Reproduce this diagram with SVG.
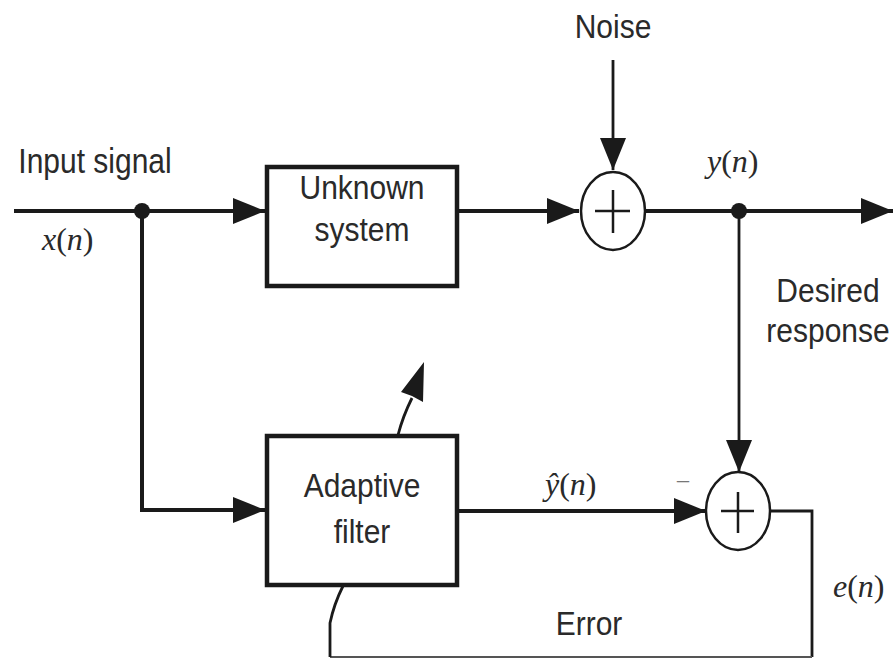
<svg xmlns="http://www.w3.org/2000/svg" width="895" height="659" viewBox="0 0 895 659">
<defs>
<marker id="ah" markerUnits="userSpaceOnUse" markerWidth="34" markerHeight="26" refX="32" refY="13" orient="auto">
<path d="M0,0 L32,13 L0,26 Z" fill="#1a1a1a"/>
</marker>
<style>
.lbl{font-family:"Liberation Sans",Arial,sans-serif;font-size:30px;fill:#2a2a2a;text-anchor:middle}
.math{font-family:"Liberation Serif","Times New Roman",serif;font-size:32px;fill:#2a2a2a}
.it{font-style:italic}
.box{fill:#fff;stroke:#1a1a1a;stroke-width:4.5}
.sum{fill:#fff;stroke:#1a1a1a;stroke-width:2.5}
.plus{stroke:#1a1a1a;stroke-width:2.5;fill:none}
.w{fill:none;stroke:#1a1a1a;stroke-width:4}
.t{fill:none;stroke:#1a1a1a;stroke-width:2.8}
</style>
</defs>
<rect width="895" height="659" fill="#fff"/>

<g id="connectors">
<line class="w" x1="14" y1="211" x2="265" y2="211" marker-end="url(#ah)"/>
<polyline class="w" points="142,211 142,510 265,510" marker-end="url(#ah)"/>
<line class="w" x1="457" y1="211" x2="579" y2="211" marker-end="url(#ah)"/>
<line class="t" x1="613" y1="60" x2="613" y2="170" marker-end="url(#ah)"/>
<line class="w" x1="645" y1="211" x2="893" y2="211" marker-end="url(#ah)"/>
<line class="t" x1="739" y1="211" x2="739" y2="472" marker-end="url(#ah)"/>
<line class="w" x1="457" y1="511" x2="706" y2="511" marker-end="url(#ah)"/>
<polyline class="t" points="770,511 812,511 812,657"/>
<line x1="812" y1="657" x2="330" y2="657" stroke="#555" stroke-width="2"/>
<path class="t" d="M330,657 L330,623 Q334,604 343,586"/>
<path class="t" d="M398,435 Q403,416 412,398"/>
<path d="M424,362 L423,402 L412,396 L401,392 Z" fill="#1a1a1a"/>
<circle cx="142" cy="211" r="8" fill="#1a1a1a"/>
<circle cx="739" cy="211" r="8" fill="#1a1a1a"/>
</g>

<g id="unknown-system">
<rect class="box" x="267" y="167" width="190" height="119"/>
<text class="lbl" transform="translate(362,199) scale(1,1.12)">Unknown</text>
<text class="lbl" transform="translate(362,241) scale(1,1.12)">system</text>
</g>

<g id="adaptive-filter">
<rect class="box" x="267" y="436" width="190" height="149"/>
<text class="lbl" transform="translate(362,497) scale(1,1.12)">Adaptive</text>
<text class="lbl" transform="translate(362,543) scale(1,1.12)">filter</text>
</g>

<g id="sum1">
<ellipse class="sum" cx="613" cy="211" rx="32" ry="39"/>
<path class="plus" d="M595,211 H630 M613,190 V233"/>
</g>

<g id="sum2">
<ellipse class="sum" cx="738" cy="511" rx="32" ry="39"/>
<path class="plus" d="M721,511 H754 M738,492 V533"/>
</g>

<g id="labels">
<text class="lbl" transform="translate(613,38) scale(1,1.12)">Noise</text>
<text class="lbl" transform="translate(95,173) scale(1,1.15)">Input signal</text>
<text class="math" x="42" y="250"><tspan class="it">x</tspan>(<tspan class="it">n</tspan>)</text>
<text class="math" x="707" y="172"><tspan class="it">y</tspan>(<tspan class="it">n</tspan>)</text>
<text class="lbl" transform="translate(828,302) scale(1,1.12)">Desired</text>
<text class="lbl" transform="translate(828,342) scale(1,1.12)">response</text>
<text class="math" x="545" y="495"><tspan class="it">ŷ</tspan>(<tspan class="it">n</tspan>)</text>
<text class="math" x="683" y="487" text-anchor="middle" style="font-size:24px;fill:#777">–</text>
<text class="math" x="833" y="597"><tspan class="it">e</tspan>(<tspan class="it">n</tspan>)</text>
<text class="lbl" transform="translate(589,635) scale(1,1.12)">Error</text>
</g>
</svg>
